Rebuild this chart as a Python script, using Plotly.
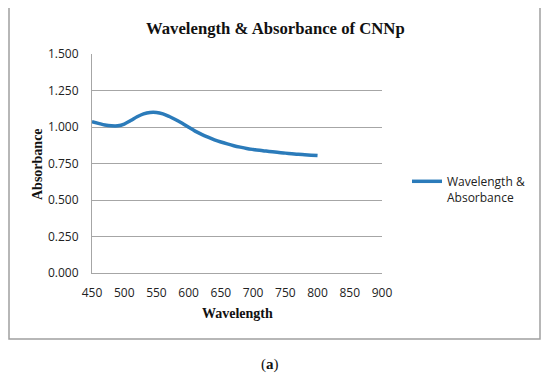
import plotly.graph_objects as go

wavelength = [450, 460, 470, 480, 490, 500, 510, 520, 530, 540, 550, 560, 570, 580, 590,
              600, 610, 620, 630, 640, 650, 660, 670, 680, 690, 700, 710, 720, 730, 740,
              750, 760, 770, 780, 790, 800]
absorbance = [1.036, 1.025, 1.014, 1.008, 1.008, 1.020, 1.044, 1.070, 1.090, 1.100, 1.100,
              1.090, 1.072, 1.050, 1.025, 0.998, 0.972, 0.950, 0.930, 0.912, 0.897, 0.884,
              0.872, 0.862, 0.853, 0.846, 0.840, 0.835, 0.830, 0.825, 0.821, 0.817, 0.813,
              0.810, 0.807, 0.804]
x_ticks = [450, 500, 550, 600, 650, 700, 750, 800, 850, 900]
y_ticks = [0, 0.25, 0.5, 0.75, 1.0, 1.25, 1.5]

# the page body adds an 8px margin, so the figure is drawn 8px smaller and offset
OFF = 8
W, H = 550 - OFF, 376 - OFF
px = lambda v: (v - OFF) / W
py = lambda v: 1 - (v - OFF) / H

fig = go.Figure()
fig.add_trace(go.Scatter(
    x=wavelength, y=absorbance, mode="lines",
    line=dict(color="#2b7bba", width=3.5, shape="spline"),
    name="Wavelength &<br>Absorbance",
))

tickfont = dict(family="Open Sans", size=12, color="#222")
grid = "#a6a6a6"
fig.update_layout(
    width=W, height=H,
    margin=dict(l=0, r=0, t=0, b=0, pad=0, autoexpand=False),
    paper_bgcolor="white", plot_bgcolor="white",
    showlegend=True,
    legend=dict(x=px(407), y=py(167), xanchor="left", yanchor="top",
                font=dict(family="Open Sans", size=12, color="#222"),
                valign="top", bgcolor="rgba(0,0,0,0)", tracegroupgap=0),
    xaxis=dict(domain=[px(92), px(382)], range=[450, 900], tickvals=x_ticks,
               showgrid=False, showline=True, linecolor=grid, linewidth=1,
               zeroline=False, ticks="", tickfont=tickfont, ticklabelstandoff=9,
               automargin=False),
    yaxis=dict(domain=[py(273), py(54)], range=[0, 1.5], tickvals=y_ticks,
               tickformat=".3f", showgrid=True, gridcolor=grid, gridwidth=1,
               showline=True, linecolor=grid, linewidth=1, zeroline=False,
               ticks="", tickfont=tickfont, ticklabelstandoff=10, automargin=False),
    shapes=[dict(type="rect", xref="paper", yref="paper",
                 x0=px(9), x1=px(540), y0=py(339), y1=py(6),
                 line=dict(color="#a0a0a0", width=1.5), fillcolor="rgba(0,0,0,0)")],
    annotations=[
        dict(text="<b>Wavelength & Absorbance of CNNp</b>", xref="paper", yref="paper",
             x=px(275), y=py(29), showarrow=False, xanchor="center", yanchor="middle",
             font=dict(family="Liberation Serif", size=16.7, color="#111")),
        dict(text="<b>Absorbance</b>", xref="paper", yref="paper", textangle=-90,
             x=px(37), y=py(164), showarrow=False, xanchor="center", yanchor="middle",
             font=dict(family="Liberation Serif", size=14, color="#111")),
        dict(text="<b>Wavelength</b>", xref="paper", yref="paper",
             x=px(237), y=py(313), showarrow=False, xanchor="center", yanchor="middle",
             font=dict(family="Liberation Serif", size=14, color="#111")),
        dict(text="(<b>a</b>)", xref="paper", yref="paper",
             x=px(270), y=py(364), showarrow=False, xanchor="center", yanchor="middle",
             font=dict(family="Liberation Serif", size=15, color="#111")),
    ],
)

fig.write_html("out.html")
